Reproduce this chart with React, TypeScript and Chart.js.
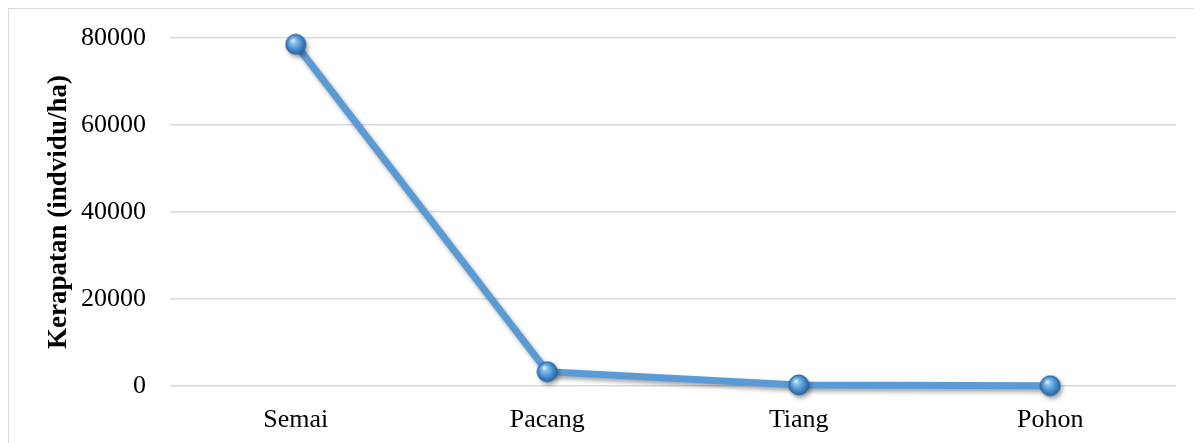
import React, { useEffect, useRef } from "react";
import { Chart, registerables } from "chart.js";

Chart.register(...registerables);

const categories = ["Semai", "Pacang", "Tiang", "Pohon"];
const density = [78550, 3300, 250, 80];
const yTicks = [0, 20000, 40000, 60000, 80000];
const yTitle = "Kerapatan (indvidu/ha)";

const W = 1194;
const H = 440;
const FONT = "'Liberation Serif', 'Times New Roman', serif";

function makeSphere(): HTMLCanvasElement {
  const r = 10;
  const size = 2 * r + 2;
  const c = document.createElement("canvas");
  c.width = size;
  c.height = size;
  const ctx = c.getContext("2d")!;
  const cx = size / 2;
  const cy = size / 2;
  const g = ctx.createRadialGradient(cx - 3, cy - 4, 0.5, cx, cy, r + 1);
  g.addColorStop(0, "#e3f1fc");
  g.addColorStop(0.2, "#8cc3ee");
  g.addColorStop(0.6, "#4a8fd0");
  g.addColorStop(1, "#1f5c99");
  ctx.beginPath();
  ctx.arc(cx, cy, r, 0, Math.PI * 2);
  ctx.fillStyle = g;
  ctx.fill();
  ctx.lineWidth = 1;
  ctx.strokeStyle = "#2a639e";
  ctx.stroke();
  return c;
}

const shadowPlugin = {
  id: "lineShadow",
  beforeDatasetsDraw(chart: any) {
    const ctx = chart.ctx;
    ctx.save();
    ctx.shadowColor = "rgba(0,0,0,0.35)";
    ctx.shadowBlur = 4;
    ctx.shadowOffsetX = 2;
    ctx.shadowOffsetY = 3;
  },
  afterDatasetsDraw(chart: any) {
    chart.ctx.restore();
  },
};

export default function App() {
  const ref = useRef<HTMLCanvasElement>(null);
  useEffect(() => {
    if (!ref.current) return;
    const sphere = makeSphere();
    const chart = new Chart(ref.current, {
      type: "line",
      data: {
        labels: categories,
        datasets: [
          {
            data: density,
            borderColor: "#5B9BD5",
            borderWidth: 7,
            pointStyle: sphere as any,
            pointRadius: 10,
            pointHoverRadius: 10,
            tension: 0,
            clip: false as any,
          },
        ],
      },
      options: {
        responsive: false,
        animation: false,
        layout: { padding: { left: 0, top: 29, right: 27, bottom: 0 } },
        plugins: {
          legend: { display: false },
          tooltip: { enabled: false },
        },
        scales: {
          x: {
            offset: true,
            grid: { display: false, drawTicks: false },
            border: { display: false },
            ticks: {
              color: "#000",
              padding: 19,
              font: { family: FONT, size: 26 },
            },
            afterFit(scale: any) {
              scale.height = 63;
            },
          },
          y: {
            min: 0,
            max: 80000,
            afterBuildTicks(scale: any) {
              scale.ticks = yTicks.map((v) => ({ value: v }));
            },
            grid: { color: "#d9d9d9", lineWidth: 1.5, drawTicks: false },
            border: { display: false },
            ticks: {
              color: "#000",
              padding: 24,
              font: { family: FONT, size: 26 },
              callback: (v: any) => String(v),
            },
            title: {
              display: true,
              text: yTitle,
              color: "#000",
              font: { family: FONT, size: 27, weight: "bold" },
              padding: { top: 34, bottom: 0 },
            },
            afterFit(scale: any) {
              scale.width = 161;
              scale.paddingTop = 0;
              scale.paddingBottom = 0;
            },
          },
        },
      },
      plugins: [shadowPlugin],
    });
    return () => chart.destroy();
  }, []);
  return (
    <div
      style={{
        width: W,
        height: H,
        border: "1px solid #d9d9d9",
        background: "#fff",
      }}
    >
      <canvas ref={ref} width={W} height={H} style={{ display: "block" }} />
    </div>
  );
}
